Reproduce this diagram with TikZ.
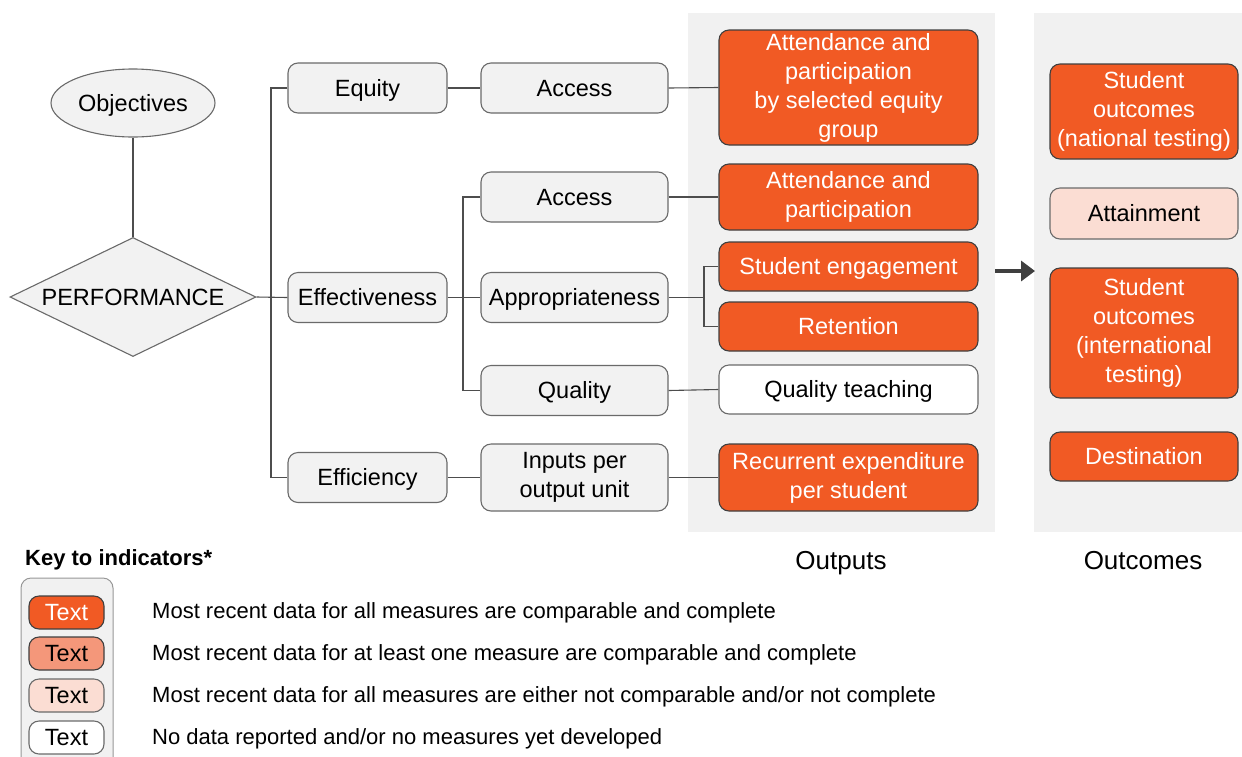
\documentclass[tikz,border=0pt]{standalone}
\usepackage{fontspec}
\setmainfont{Liberation Sans}
\usetikzlibrary{shapes.geometric,arrows.meta}
\definecolor{orng}{HTML}{F15A24}
\definecolor{orngmid}{HTML}{F4977A}
\definecolor{orngpale}{HTML}{FBDDD3}
\definecolor{panel}{HTML}{F1F1F1}
\definecolor{boxgray}{HTML}{F2F2F2}
\definecolor{edge}{HTML}{6A6A6A}
\definecolor{darkedge}{HTML}{3F3F3F}
\definecolor{linec}{HTML}{4D4D4D}
\tikzset{
  wordstrut/.style={execute at begin node={\rule{0pt}{0.905em}}, execute at end node={\rule[-0.212em]{0pt}{0pt}}},
  basebox/.style={rectangle, rounded corners=10pt, line width=1.1pt, inner sep=0pt, align=center,
    font=\fontsize{23.5}{29}\selectfont, wordstrut},
  graybox/.style={basebox, draw=edge, fill=boxgray, text=black},
  orbox/.style={basebox, draw=darkedge, fill=orng, text=white},
  palebox/.style={basebox, draw=edge, fill=orngpale, text=black},
  midbox/.style={basebox, draw=darkedge, fill=orngmid, text=black},
  whitebox/.style={basebox, draw=edge, fill=white, text=black},
  conn/.style={draw=linec, line width=1.1pt},
  keytext/.style={anchor=west, inner sep=0pt, font=\fontsize{22}{26}\selectfont, wordstrut},
  coltitle/.style={inner sep=0pt, font=\fontsize{26}{30}\selectfont, wordstrut},
}
\begin{document}
\begin{tikzpicture}[x=1pt,y=-1pt]
\useasboundingbox (0,0) rectangle (1242,756);
% panels
\fill[panel] (688,13) rectangle (995,532);
\fill[panel] (1034,13) rectangle (1242,532);

% left part
\node[ellipse, draw=edge, fill=boxgray, line width=1.1pt, minimum width=164pt, minimum height=68pt, inner sep=0pt,
  font=\fontsize{23.5}{29}\selectfont, wordstrut] (obj) at (133,103) {Objectives};
\node[diamond, draw=edge, fill=boxgray, line width=1.1pt, aspect=2.07, minimum width=246pt, minimum height=119pt, inner sep=0pt,
  font=\fontsize{23.5}{29}\selectfont, wordstrut] (perf) at (133,297) {PERFORMANCE};

% level 1
\node[graybox, minimum width=159pt, minimum height=50pt] (equity) at (367.5,88) {Equity};
\node[graybox, minimum width=159pt, minimum height=50pt] (effect) at (367.5,297.5) {Effectiveness};
\node[graybox, minimum width=159pt, minimum height=50pt] (effic) at (367.5,477.5) {Efficiency};

% level 2
\node[graybox, minimum width=187pt, minimum height=50pt] (acc1) at (574.5,88) {Access};
\node[graybox, minimum width=187pt, minimum height=50pt] (acc2) at (574.5,197) {Access};
\node[graybox, minimum width=187pt, minimum height=50pt] (appr) at (574.5,297.5) {Appropriateness};
\node[graybox, minimum width=187pt, minimum height=50pt] (qual) at (574.5,390.5) {Quality};
\node[graybox, minimum width=187pt, minimum height=67pt] (inp) at (574.5,477.5) {Inputs per\\output unit};

% level 3 (outputs)
\node[orbox, minimum width=259pt, minimum height=115pt] (att1) at (848.5,87.5) {Attendance and\\participation\\by selected equity\\group};
\node[orbox, minimum width=259pt, minimum height=66pt] (att2) at (848.5,197) {Attendance and\\participation};
\node[orbox, minimum width=259pt, minimum height=49pt] (eng) at (848.5,266.5) {Student engagement};
\node[orbox, minimum width=259pt, minimum height=49pt] (ret) at (848.5,326.5) {Retention};
\node[whitebox, minimum width=259pt, minimum height=49pt] (qt) at (848.5,389.5) {Quality teaching};
\node[orbox, minimum width=259pt, minimum height=67pt] (rec) at (848.5,477.5) {Recurrent expenditure\\per student};

% outcomes
\node[orbox, minimum width=188pt, minimum height=95pt] (so1) at (1144,111.5) {Student\\outcomes\\(national testing)};
\node[palebox, minimum width=188pt, minimum height=51pt] (attn) at (1144,213.5) {Attainment};
\node[orbox, minimum width=188pt, minimum height=130pt] (so2) at (1144,333) {Student\\outcomes\\(international\\testing)};
\node[orbox, minimum width=188pt, minimum height=49pt] (dest) at (1144,456.5) {Destination};

% connectors
\coordinate (t1) at (271,297.5);
\coordinate (t2) at (463,297.5);
\coordinate (t3) at (704,297.5);
\draw[conn] (obj.south) -- (perf.north);
\draw[conn] (perf.east) -- (effect.west);
\draw[conn] (equity.west) -| (t1) |- (effic.west);
\draw[conn] (equity.east) -- (acc1.west);
\draw[conn] (effect.east) -- (appr.west);
\draw[conn] (acc2.west) -| (t2) |- (qual.west);
\draw[conn] (effic.east) -- (inp.west);
\draw[conn] (acc1.east) -- (att1.west);
\draw[conn] (acc2.east) -- (att2.west);
\draw[conn] (appr.east) -- (t3);
\draw[conn] (eng.west) -| (t3) |- (ret.west);
\draw[conn] (qual.east) -- (qt.west);
\draw[conn] (inp.east) -- (rec.west);

% arrow between panels
\coordinate (arrA) at (995,271);
\coordinate (arrB) at (1035,271);
\draw[draw=darkedge, line width=4pt, -{Triangle[length=14pt,width=20pt]}] (arrA) -- (arrB);

% column titles
\node[coltitle] (outl) at (841,560) {Outputs};
\node[coltitle] (outcl) at (1143,560) {Outcomes};

% key
\node[anchor=west, inner sep=0pt, font=\fontsize{22}{26}\selectfont\bfseries, wordstrut] (keyt) at (25,558) {Key to indicators*};
\draw[draw=edge!70, fill=panel, line width=1pt, rounded corners=10pt] (21,770) -- (21,578) -- (113,578) -- (113,770);
\node[orbox, minimum width=75pt, minimum height=33pt] (k1) at (66.5,612.5) {Text};
\node[midbox, minimum width=75pt, minimum height=33pt] (k2) at (66.5,653.5) {Text};
\node[palebox, minimum width=75pt, minimum height=33pt] (k3) at (66.5,695.5) {Text};
\node[whitebox, minimum width=75pt, minimum height=33pt] (k4) at (66.5,737.5) {Text};
\node[keytext] (d1) at (152,611) {Most recent data for all measures are comparable and complete};
\node[keytext] (d2) at (152,653) {Most recent data for at least one measure are comparable and complete};
\node[keytext] (d3) at (152,695) {Most recent data for all measures are either not comparable and/or not complete};
\node[keytext] (d4) at (152,737) {No data reported and/or no measures yet developed};
\end{tikzpicture}
\end{document}
